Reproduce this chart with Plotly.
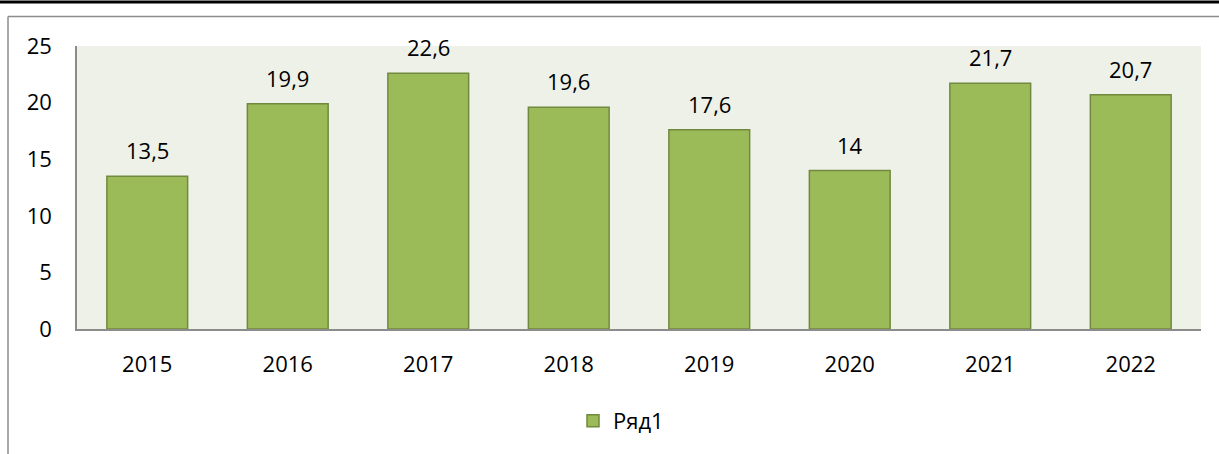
import plotly.graph_objects as go

# Annual values by year
years = ["2015", "2016", "2017", "2018", "2019", "2020", "2021", "2022"]
values = [13.5, 19.9, 22.6, 19.6, 17.6, 14, 21.7, 20.7]
series_name = "Ряд1"
y_ticks = [0, 5, 10, 15, 20, 25]

W, H = 1219, 454
L, R, T, B = 77, 18, 46, 125
plot_w = W - L - R
plot_h = H - T - B

FONT = "Open Sans"
FS = 22
BAR = "#9BBB59"
BAR_EDGE = "#71893F"


def px_x(px):
    return (px - L) / plot_w


def px_y(py):
    return (H - B - py) / plot_h


def fmt(v):
    s = ("%g" % v)
    return s.replace(".", ",")


fig = go.Figure()
fig.add_trace(go.Bar(
    x=years,
    y=values,
    name=series_name,
    marker=dict(color=BAR, line=dict(color=BAR_EDGE, width=1.5)),
    showlegend=True,
))

# value labels above each bar (category axis positions are serial indices)
for i, v in enumerate(values):
    fig.add_annotation(
        x=i, y=v, text=fmt(v), showarrow=False,
        xref="x", yref="y", yanchor="bottom", yshift=9,
        font=dict(family=FONT, size=FS, color="#000000"),
    )

shapes = [
    # heavy rule across the top
    dict(type="line", xref="paper", yref="paper",
         x0=px_x(0), x1=px_x(W), y0=px_y(2), y1=px_y(2),
         line=dict(color="#000000", width=3)),
    # outer chart frame (top and left edges)
    dict(type="line", xref="paper", yref="paper",
         x0=px_x(8), x1=px_x(W), y0=px_y(16.5), y1=px_y(16.5),
         line=dict(color="#8C8C8C", width=1.5)),
    dict(type="line", xref="paper", yref="paper",
         x0=px_x(8), x1=px_x(8), y0=px_y(16.5), y1=px_y(H),
         line=dict(color="#8C8C8C", width=1.5)),
]

fig.update_layout(
    width=W, height=H,
    margin=dict(l=L, r=R, t=T, b=B, pad=0),
    paper_bgcolor="#FFFFFF",
    plot_bgcolor="#EEF1E7",
    font=dict(family=FONT, size=FS, color="#000000"),
    bargap=0.425,
    shapes=shapes,
    showlegend=True,
    legend=dict(
        orientation="h", x=px_x(573), xanchor="left", y=px_y(421), yanchor="middle",
        font=dict(family=FONT, size=FS, color="#000000"),
        bgcolor="rgba(0,0,0,0)",
        itemwidth=30,
    ),
)

fig.update_xaxes(
    type="category", range=[-0.5, len(years) - 0.5],
    showgrid=False, showline=True, linecolor="#8C8C8C", linewidth=1.5,
    ticks="", ticklabelstandoff=15, tickfont=dict(family=FONT, size=FS),
    zeroline=False,
)
fig.update_yaxes(
    range=[0, 25], tickvals=y_ticks, ticktext=[str(t) for t in y_ticks],
    showgrid=False, showline=True, linecolor="#8C8C8C", linewidth=1.5,
    ticks="", ticklabelstandoff=19, tickfont=dict(family=FONT, size=FS),
    zeroline=False,
)

fig.write_html("out.html")
